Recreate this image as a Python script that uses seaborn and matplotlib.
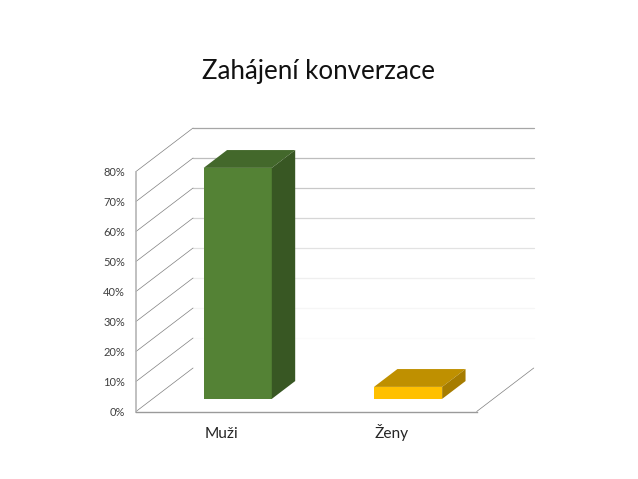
import matplotlib
matplotlib.use("Agg")
import matplotlib.pyplot as plt
from matplotlib.patches import Polygon
from matplotlib.ticker import PercentFormatter
import pandas as pd
import seaborn as sns

categories = ["Muži", "Ženy"]
values = [77, 4]
tick_values = [0, 10, 20, 30, 40, 50, 60, 70, 80]

sns.set_style("white")
plt.rcParams['font.family'] = ['Lato', 'DejaVu Sans']

front_colors = ["#548235", "#FFC000"]
top_colors = ["#43682B", "#BF9000"]
side_colors = ["#385723", "#A67C00"]
back_grid_colors = ["#FFFFFF", "#FBFBFB", "#F6F6F6", "#EFEFEF", "#E2E2E2",
                    "#D6D6D6", "#C8C8C8", "#BDBDBD", "#A6A6A6"]

# size of the fake 3d depth, in data units
DEPTH_X = 0.335
DEPTH_Y = 14.5
BAR_WIDTH = 0.4
BAR_FRONT = 0.29
BAR_BACK = 0.7


def project(x, y, depth):
    """Shifts a data point back along the 3d depth direction."""
    return (x + depth * DEPTH_X, y + depth * DEPTH_Y)


fig = plt.figure(figsize=(6.38, 4.79), dpi=100)
ax = fig.add_axes([136 / 638, 1 - 411.5 / 479, (476.7 - 136) / 638, 240 / 479])

df = pd.DataFrame({"group": categories, "value": values})
sns.barplot(data=df, x="group", y="value", hue="group", palette=front_colors,
            width=BAR_WIDTH, legend=False, ax=ax, zorder=5, saturation=1, linewidth=0)

ax.set_xlim(-0.5, 1.5)
ax.set_ylim(0, 80)

# Move front faces back to where the bar stands on the floor
for patch, value in zip(ax.patches, values):
    patch.set_y(BAR_FRONT * DEPTH_Y)
    patch.set_x(patch.get_x() + BAR_FRONT * DEPTH_X)
    patch.set_edgecolor("none")
    patch.set_clip_on(False)

# Walls
for tick in tick_values:
    start = project(-0.5, tick, 0)
    corner = project(-0.5, tick, 1)
    end = project(1.5, tick, 1)
    ax.plot([start[0], corner[0]], [start[1], corner[1]], color="#7F7F7F", lw=0.5,
            clip_on=False, zorder=2)
    ax.plot([corner[0], end[0]], [corner[1], end[1]],
            color=back_grid_colors[tick_values.index(tick)], lw=0.9, clip_on=False, zorder=1)

floor_start = project(1.5, 0, 0)
floor_end = project(1.5, 0, 1)
ax.plot([floor_start[0], floor_end[0]], [floor_start[1], floor_end[1]], color="#7F7F7F", lw=0.5,
        clip_on=False, zorder=2)

# Top and side faces of the bars
for i, value in enumerate(values):
    left = i - BAR_WIDTH / 2
    right = i + BAR_WIDTH / 2
    top = [project(left, value, BAR_FRONT), project(right, value, BAR_FRONT),
           project(right, value, BAR_BACK), project(left, value, BAR_BACK)]
    side = [project(right, 0, BAR_FRONT), project(right, value, BAR_FRONT),
            project(right, value, BAR_BACK), project(right, 0, BAR_BACK)]
    ax.add_patch(Polygon(top, closed=True, facecolor=top_colors[i], edgecolor="none",
                         clip_on=False, zorder=5))
    ax.add_patch(Polygon(side, closed=True, facecolor=side_colors[i], edgecolor="none",
                         clip_on=False, zorder=5))

ax.set_yticks(tick_values)
ax.yaxis.set_major_formatter(PercentFormatter(decimals=0))
ax.tick_params(axis="y", length=0, pad=8, labelsize=8, labelcolor="#404040")
ax.tick_params(axis="x", length=0, pad=19, labelsize=11.2, labelcolor="#262626")
for label in ax.get_xticklabels():
    label.set_verticalalignment("baseline")
ax.set_xlabel("")
ax.set_ylabel("")

sns.despine(ax=ax, top=True, right=True)
ax.spines["left"].set_color("#B5B5B5")
ax.spines["left"].set_linewidth(1.2)
ax.spines["bottom"].set_color("#9A9A9A")
ax.spines["bottom"].set_linewidth(1.0)
ax.patch.set_alpha(0)

fig.text(319 / 638, 1 - 72 / 479, "Zahájení konverzace", ha="center", va="center",
         fontsize=18.6, color="#111111")

fig.savefig("out.png", dpi=100)
